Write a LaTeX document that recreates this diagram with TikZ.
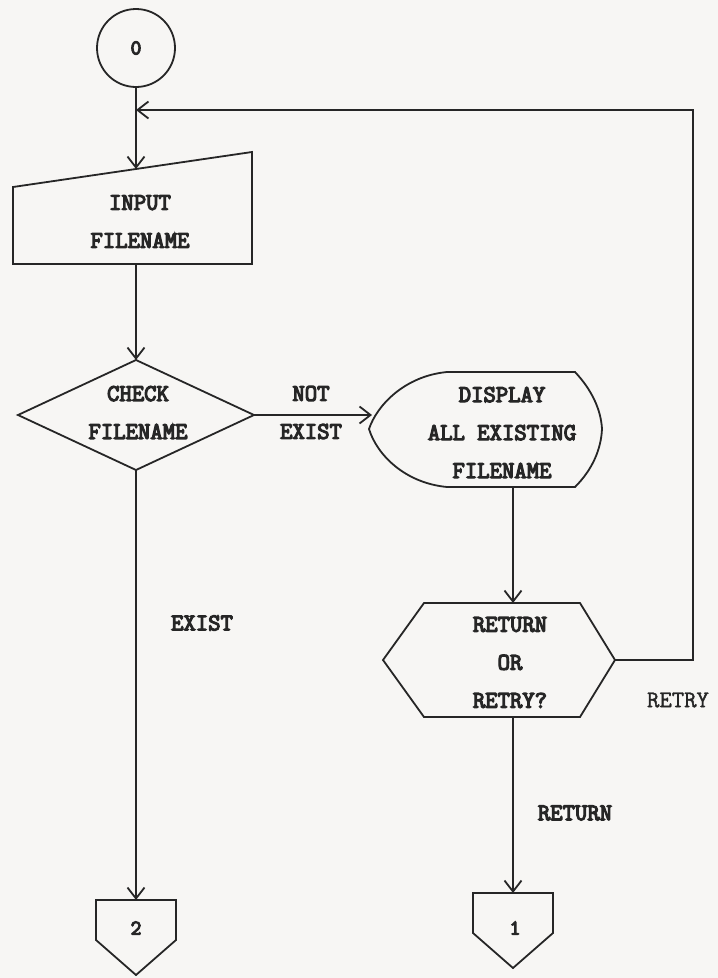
\documentclass[tikz,border=0pt]{standalone}
\usepackage{fontspec}
\usetikzlibrary{arrows.meta}
\newfontfamily\heavytt{Latin Modern Mono}[FakeBold=5]
\newfontfamily\plaintt{Latin Modern Mono}[FakeBold=1.5]
\definecolor{ink}{HTML}{262626}
\definecolor{paper}{HTML}{F7F6F4}
\tikzset{
  shapeline/.style={draw=ink, line width=1.8pt, line join=miter},
  flow/.style={draw=ink, line width=1.8pt, -{Straight Barb[length=11pt,width=17pt]}},
  lbl/.style={font=\fontsize{24}{38}\selectfont\heavytt, text=ink, align=center, inner sep=0pt},
  lightlbl/.style={font=\fontsize{24}{38}\selectfont\plaintt, text=ink, inner sep=0pt},
  digit/.style={font=\fontsize{21}{25}\selectfont\heavytt, text=ink, inner sep=0pt},
}
\begin{document}
\begin{tikzpicture}[x=1pt,y=-1pt]
\fill[paper] (0,0) rectangle (718,978);
\useasboundingbox (0,0) rectangle (718,978);

% start connector
\node[circle, draw=ink, line width=1.8pt, minimum size=78pt, inner sep=0pt, digit] (start) at (136,48) {0};

% input (manual input trapezoid)
\draw[shapeline] (13,187) -- (252,152) -- (252,264) -- (13,264) -- cycle;
\coordinate (inN) at (136,169);
\coordinate (inS) at (136,264);
\node[lbl] (inText) at (140,221.5) {INPUT\\FILENAME};

% decision
\draw[shapeline] (18,415) -- (136,360) -- (254,415) -- (136,470) -- cycle;
\coordinate (dN) at (136,360);
\coordinate (dE) at (254,415);
\coordinate (dS) at (136,470);
\node[lbl] (dText) at (138,412.5) {CHECK\\FILENAME};

% display
\draw[shapeline] (447,372) -- (575,372)
   .. controls (592,390) and (601,410) .. (602,429)
   .. controls (601,450) and (592,470) .. (575,487)
   -- (447,487)
   .. controls (405,483) and (377,455) .. (369,429)
   .. controls (377,405) and (405,376) .. (447,372) -- cycle;
\coordinate (dispW) at (372,415);
\coordinate (dispS) at (513,487);
\node[lbl] (dispText) at (502,432.5) {DISPLAY\\ALL EXISTING\\FILENAME};

% return or retry (preparation hexagon)
\draw[shapeline] (383,660) -- (424,603) -- (580,603) -- (615,660) -- (580,717) -- (424,717) -- cycle;
\coordinate (hN) at (513,603);
\coordinate (hE) at (615,660);
\coordinate (hS) at (513,717);
\node[lbl] (hText) at (510,662.5) {RETURN\\OR\\RETRY?};

% off-page connectors
\draw[shapeline] (96,900) -- (176,900) -- (176,940) -- (136,975) -- (96,940) -- cycle;
\coordinate (p2N) at (136,900);
\node[digit] (p2Text) at (136,928) {2};

\draw[shapeline] (473,893) -- (553,893) -- (553,933) -- (513,968) -- (473,933) -- cycle;
\coordinate (p1N) at (513,893);
\node[digit] (p1Text) at (515,928) {1};

% loop corner points
\coordinate (loopIn) at (136,110);
\coordinate (rc) at (693,110);

% connectors
\draw[flow] (start.south) -- (inN);
\draw[flow] (inS) -- (dN);
\draw[flow] (dE) -- (dispW);
\draw[flow] (dS) -- (p2N);
\draw[flow] (dispS) -- (hN);
\draw[flow] (hS) -- (p1N);
\draw[flow] (hE) -| (rc) -- (loopIn);

% connector labels
\node[lbl] (notExist) at (311,412.5) {NOT\\EXIST};
\node[lbl] (existLbl) at (202,623) {EXIST};
\node[lbl] (returnLbl) at (575,813) {RETURN};
\node[lightlbl] (retryLbl) at (678,700) {RETRY};
\end{tikzpicture}
\end{document}
